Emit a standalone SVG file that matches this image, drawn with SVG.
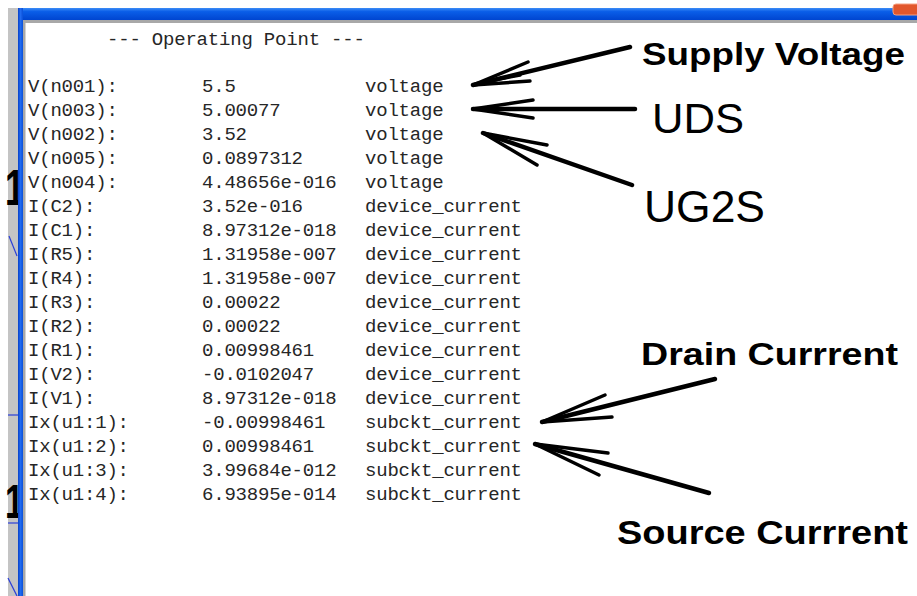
<svg xmlns="http://www.w3.org/2000/svg" width="917" height="596" viewBox="0 0 917 596">
  <defs>
    <style>
      .mono { font-family: "Liberation Mono", "Courier New", monospace; font-size: 19px; fill: #262626; letter-spacing: -0.2px; }
      .bold { font-family: "Liberation Sans", Arial, sans-serif; font-weight: bold; fill: #000; }
      .reg { font-family: "Liberation Sans", Arial, sans-serif; font-weight: normal; fill: #000; }
      .arrow path { fill: none; stroke: #000; stroke-linecap: round; stroke-linejoin: round; }
      .shaft { stroke-width: 4.5; }
      .barb { stroke-width: 3.5; }
      .wire { stroke: #2a3fd8; stroke-width: 1.2; fill: none; }
    </style>
    <linearGradient id="titleBlue" x1="0" y1="0" x2="0" y2="1">
      <stop offset="0" stop-color="#3c8cf6"/>
      <stop offset="0.3" stop-color="#0a5ee8"/>
      <stop offset="1" stop-color="#0045d0"/>
    </linearGradient>
    <linearGradient id="frameBlue" x1="0" y1="0" x2="1" y2="0">
      <stop offset="0" stop-color="#0a40c8"/>
      <stop offset="0.5" stop-color="#1f6af0"/>
      <stop offset="1" stop-color="#0a50d8"/>
    </linearGradient>
  </defs>

  <!-- background and window chrome -->
  <rect x="0" y="0" width="917" height="596" fill="#ffffff"/>
  <rect x="8" y="8" width="10" height="588" fill="#c4c4c4"/>
  <g id="schematic-edge">
    <line class="wire" x1="8" y1="415" x2="18" y2="415"/>
    <line class="wire" x1="8" y1="523" x2="18" y2="523"/>
    <line class="wire" x1="9" y1="236" x2="17" y2="256"/>
    <line class="wire" x1="8" y1="578" x2="17" y2="596"/>
    <text class="bold" transform="translate(5,205) scale(0.7,1)" x="0" y="0" font-size="50">1</text>
    <text class="bold" transform="translate(5,518) scale(0.7,1)" x="0" y="0" font-size="48">1</text>
  </g>
  <rect x="18" y="8" width="899" height="12" fill="url(#titleBlue)"/>
  <rect x="18" y="8" width="5" height="588" fill="url(#frameBlue)"/>
  <rect x="23" y="20" width="894" height="3" fill="#a8a8a8"/>
  <rect x="23" y="20" width="2.5" height="576" fill="#a8a8a8"/>
  <rect x="893" y="4" width="30" height="11" rx="3" fill="#e2572c" stroke="#f6a080" stroke-width="1"/>

  <!-- operating point listing -->
  <g id="listing">
    <text class="mono" x="107" y="45" xml:space="preserve">--- Operating Point ---</text>
    <g id="labels">
      <text class="mono" x="28" y="92">V(n001):</text>
      <text class="mono" x="28" y="116">V(n003):</text>
      <text class="mono" x="28" y="140">V(n002):</text>
      <text class="mono" x="28" y="164">V(n005):</text>
      <text class="mono" x="28" y="188">V(n004):</text>
      <text class="mono" x="28" y="212">I(C2):</text>
      <text class="mono" x="28" y="236">I(C1):</text>
      <text class="mono" x="28" y="260">I(R5):</text>
      <text class="mono" x="28" y="284">I(R4):</text>
      <text class="mono" x="28" y="308">I(R3):</text>
      <text class="mono" x="28" y="332">I(R2):</text>
      <text class="mono" x="28" y="356">I(R1):</text>
      <text class="mono" x="28" y="380">I(V2):</text>
      <text class="mono" x="28" y="404">I(V1):</text>
      <text class="mono" x="28" y="428">Ix(u1:1):</text>
      <text class="mono" x="28" y="452">Ix(u1:2):</text>
      <text class="mono" x="28" y="476">Ix(u1:3):</text>
      <text class="mono" x="28" y="500">Ix(u1:4):</text>
    </g>
    <g id="values">
      <text class="mono" x="202" y="92">5.5</text>
      <text class="mono" x="202" y="116">5.00077</text>
      <text class="mono" x="202" y="140">3.52</text>
      <text class="mono" x="202" y="164">0.0897312</text>
      <text class="mono" x="202" y="188">4.48656e-016</text>
      <text class="mono" x="202" y="212">3.52e-016</text>
      <text class="mono" x="202" y="236">8.97312e-018</text>
      <text class="mono" x="202" y="260">1.31958e-007</text>
      <text class="mono" x="202" y="284">1.31958e-007</text>
      <text class="mono" x="202" y="308">0.00022</text>
      <text class="mono" x="202" y="332">0.00022</text>
      <text class="mono" x="202" y="356">0.00998461</text>
      <text class="mono" x="202" y="380">-0.0102047</text>
      <text class="mono" x="202" y="404">8.97312e-018</text>
      <text class="mono" x="202" y="428">-0.00998461</text>
      <text class="mono" x="202" y="452">0.00998461</text>
      <text class="mono" x="202" y="476">3.99684e-012</text>
      <text class="mono" x="202" y="500">6.93895e-014</text>
    </g>
    <g id="types">
      <text class="mono" x="365" y="92">voltage</text>
      <text class="mono" x="365" y="116">voltage</text>
      <text class="mono" x="365" y="140">voltage</text>
      <text class="mono" x="365" y="164">voltage</text>
      <text class="mono" x="365" y="188">voltage</text>
      <text class="mono" x="365" y="212">device_current</text>
      <text class="mono" x="365" y="236">device_current</text>
      <text class="mono" x="365" y="260">device_current</text>
      <text class="mono" x="365" y="284">device_current</text>
      <text class="mono" x="365" y="308">device_current</text>
      <text class="mono" x="365" y="332">device_current</text>
      <text class="mono" x="365" y="356">device_current</text>
      <text class="mono" x="365" y="380">device_current</text>
      <text class="mono" x="365" y="404">device_current</text>
      <text class="mono" x="365" y="428">subckt_current</text>
      <text class="mono" x="365" y="452">subckt_current</text>
      <text class="mono" x="365" y="476">subckt_current</text>
      <text class="mono" x="365" y="500">subckt_current</text>
    </g>
  </g>

  <!-- annotation labels -->
  <g id="supply-voltage"><text class="bold" x="642" y="65" font-size="32" textLength="263" lengthAdjust="spacingAndGlyphs">Supply Voltage</text></g>
  <g id="uds"><text class="reg" x="652" y="133" font-size="43" textLength="92" lengthAdjust="spacingAndGlyphs">UDS</text></g>
  <g id="ug2s"><text class="reg" x="644" y="222" font-size="44" textLength="121" lengthAdjust="spacingAndGlyphs">UG2S</text></g>
  <g id="drain-current"><text class="bold" x="641" y="365" font-size="32" textLength="257" lengthAdjust="spacingAndGlyphs">Drain Currrent</text></g>
  <g id="source-current"><text class="bold" x="617" y="544" font-size="33" textLength="291" lengthAdjust="spacingAndGlyphs">Source Currrent</text></g>

  <!-- hand-drawn pointers -->
  <g id="connectors" class="arrow">
    <path class="shaft" d="M630 47 L473 85"/>
    <path class="barb" d="M473 85 L528 62 M473 85 L530 81 M478 83 L520 75"/>
    <path class="shaft" d="M635 109 L473 109"/>
    <path class="barb" d="M473 109 L533 100 M473 109 L533 118"/>
    <path class="shaft" d="M632 185 L483 133"/>
    <path class="barb" d="M483 133 L547 145 M483 133 L537 165"/>
    <path class="shaft" d="M715 379 L542 422"/>
    <path class="barb" d="M542 422 L605 395 M542 422 L612 417"/>
    <path class="shaft" d="M709 493 L535 444"/>
    <path class="barb" d="M535 444 L608 453 M535 444 L599 475"/>
  </g>
</svg>
